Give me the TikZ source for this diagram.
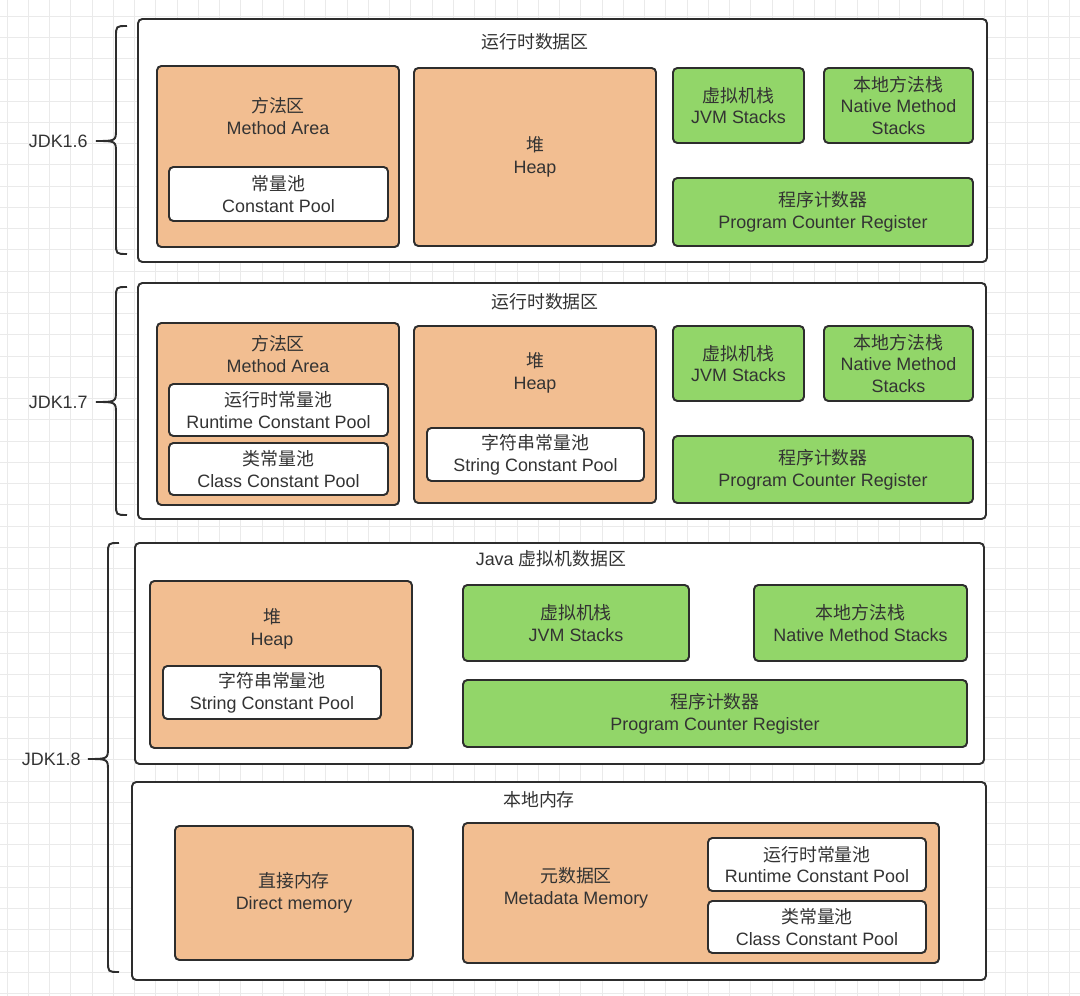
\documentclass[tikz,border=0pt]{standalone}
\usepackage{fontspec}
\setmainfont{Liberation Sans}
\newfontfamily\cjk{Noto Sans CJK SC}
\usepackage{xcolor}
\usetikzlibrary{fit}
\newcommand{\zh}[1]{{\cjk #1}}
% curly bracket: line x, top, tip y, bottom
\newcommand{\jdkbrace}[4]{%
  \draw[bracket] (#1+11,#2) .. controls (#1,#2) .. (#1,#2+11)
    -- (#1,#3-12) .. controls (#1,#3) .. (#1-20,#3)
    .. controls (#1,#3) .. (#1,#3+12)
    -- (#1,#4-11) .. controls (#1,#4) .. (#1+11,#4);}
\definecolor{clrLine}{RGB}{45,45,45}
\definecolor{clrText}{RGB}{51,51,51}
\definecolor{clrArea}{RGB}{242,190,145}
\definecolor{clrStack}{RGB}{146,214,105}
\definecolor{clrGrid}{RGB}{234,234,234}
\tikzset{
  base/.style={font=\fontsize{10.2}{12.4}\selectfont,text=clrText,align=center},
  panel/.style={rectangle,rounded corners=2.5pt,draw=clrLine,line width=1.1pt,
    fill=white,inner sep=0pt},
  area/.style={panel,fill=clrArea},
  stack/.style={panel,fill=clrStack},
  pool/.style={panel,fill=white},
  txt/.style={base,inner sep=0pt},
  jdk/.style={base,inner sep=0pt,anchor=east},
  bracket/.style={draw=clrLine,line width=1.1pt},
  gridline/.style={draw=clrGrid,line width=0.5pt}
}
\begin{document}
\begin{tikzpicture}[x=0.02cm,y=-0.02cm]
  \useasboundingbox (0,0) rectangle (1080,996);
  \fill[white] (0,0) rectangle (1080,996);
  \foreach \i in {0,...,50}
    \draw[gridline] ({7+21.25*\i},0) -- ({7+21.25*\i},996);
  \foreach \j in {0,...,46}
    \draw[gridline] (0,{16+21.25*\j}) -- (1080,{16+21.25*\j});

  % JDK1.6
  \node[panel,fit={(138,19) (987,262)}] (rda6) {};
  \node[txt] (rdaT6) at (535,42) {\zh{运行时数据区}};
  \node[area,fit={(157,66) (399,247)}] (ma6) {};
  \node[txt] (maT6) at (278,116) {\zh{方法区}\\Method Area};
  \node[pool,fit={(169,167) (388,221)}] (cp6) {};
  \node[txt] (cpT6) at (cp6) {\zh{常量池}\\Constant Pool};
  \node[area,fit={(414,68) (656,246)}] (heap6) {};
  \node[txt] (heapT6) at (heap6) {\zh{堆}\\Heap};
  \node[stack,fit={(673,68) (804,143)}] (jvms6) {};
  \node[txt] (jvmsT6) at (jvms6) {\zh{虚拟机栈}\\JVM Stacks};
  \node[stack,fit={(824,68) (973,143)}] (nms6) {};
  \node[txt] (nmsT6) at (nms6) {\zh{本地方法栈}\\Native Method\\Stacks};
  \node[stack,fit={(673,178) (973,246)}] (pc6) {};
  \node[txt] (pcT6) at (pc6) {\zh{程序计数器}\\Program Counter Register};

  % JDK1.7
  \node[panel,fit={(138,283) (986,519)}] (rda7) {};
  \node[txt] (rdaT7) at (545,302) {\zh{运行时数据区}};
  \node[area,fit={(157,323) (399,505)}] (ma7) {};
  \node[txt] (maT7) at (278,354) {\zh{方法区}\\Method Area};
  \node[pool,fit={(169,384) (388,436)}] (rcp7) {};
  \node[txt] (rcpT7) at (rcp7) {\zh{运行时常量池}\\Runtime Constant Pool};
  \node[pool,fit={(169,443) (388,495)}] (ccp7) {};
  \node[txt] (ccpT7) at (ccp7) {\zh{类常量池}\\Class Constant Pool};
  \node[area,fit={(414,326) (656,503)}] (heap7) {};
  \node[txt] (heapT7) at (535,373) {\zh{堆}\\Heap};
  \node[pool,fit={(427,428) (644,481)}] (scp7) {};
  \node[txt] (scpT7) at (scp7) {\zh{字符串常量池}\\String Constant Pool};
  \node[stack,fit={(673,326) (804,401)}] (jvms7) {};
  \node[txt] (jvmsT7) at (jvms7) {\zh{虚拟机栈}\\JVM Stacks};
  \node[stack,fit={(824,326) (973,401)}] (nms7) {};
  \node[txt] (nmsT7) at (nms7) {\zh{本地方法栈}\\Native Method\\Stacks};
  \node[stack,fit={(673,436) (973,503)}] (pc7) {};
  \node[txt] (pcT7) at (pc7) {\zh{程序计数器}\\Program Counter Register};

  % JDK1.8
  \node[panel,fit={(135,543) (984,764)}] (jvm8) {};
  \node[txt] (jvmT8) at (551,559) {Java \zh{虚拟机数据区}};
  \node[area,fit={(150,581) (412,748)}] (heap8) {};
  \node[txt] (heapT8) at (272,629) {\zh{堆}\\Heap};
  \node[pool,fit={(163,666) (381,719)}] (scp8) {};
  \node[txt] (scpT8) at (scp8) {\zh{字符串常量池}\\String Constant Pool};
  \node[stack,fit={(463,585) (689,661)}] (jvms8) {};
  \node[txt] (jvmsT8) at (jvms8) {\zh{虚拟机栈}\\JVM Stacks};
  \node[stack,fit={(754,585) (967,661)}] (nms8) {};
  \node[txt] (nmsT8) at (nms8) {\zh{本地方法栈}\\Native Method Stacks};
  \node[stack,fit={(463,680) (967,747)}] (pc8) {};
  \node[txt] (pcT8) at (pc8) {\zh{程序计数器}\\Program Counter Register};

  \node[panel,fit={(132,782) (986,980)}] (nm8) {};
  \node[txt] (nmT8) at (539,800) {\zh{本地内存}};
  \node[area,fit={(175,826) (413,960)}] (dm8) {};
  \node[txt] (dmT8) at (dm8) {\zh{直接内存}\\Direct memory};
  \node[area,fit={(463,823) (939,963)}] (meta8) {};
  \node[txt] (metaT8) at (576,888) {\zh{元数据区}\\Metadata Memory};
  \node[pool,fit={(708,838) (926,891)}] (rcp8) {};
  \node[txt] (rcpT8) at (rcp8) {\zh{运行时常量池}\\Runtime Constant Pool};
  \node[pool,fit={(708,901) (926,953)}] (ccp8) {};
  \node[txt] (ccpT8) at (ccp8) {\zh{类常量池}\\Class Constant Pool};

  % brackets
  \jdkbrace{116}{26}{141}{254}
  \jdkbrace{116}{287}{402}{515}
  \jdkbrace{108}{543}{759}{972}
  \node[jdk] (jdk6) at (88,141) {JDK1.6};
  \node[jdk] (jdk7) at (88,402) {JDK1.7};
  \node[jdk] (jdk8) at (81,759) {JDK1.8};
\end{tikzpicture}
\end{document}
